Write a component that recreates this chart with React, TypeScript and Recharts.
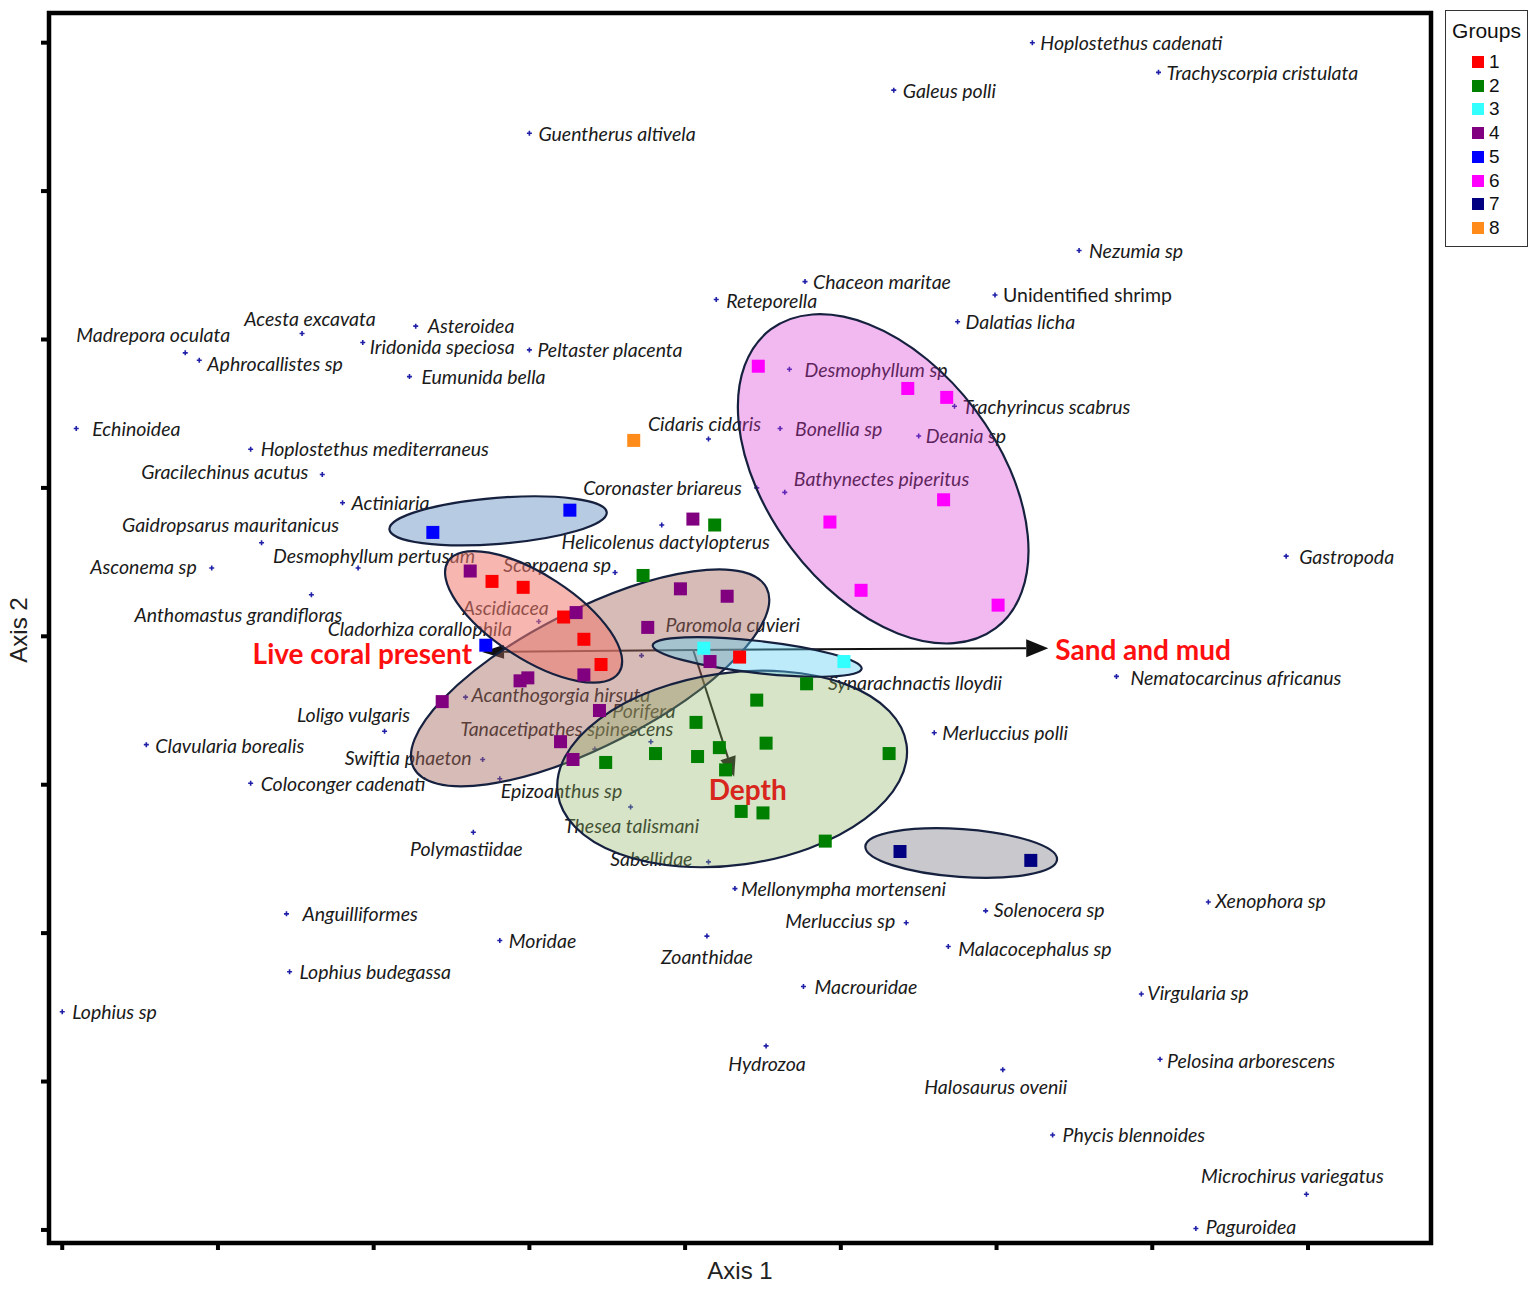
import React from "react";
import {
  ScatterChart,
  Scatter,
  XAxis,
  YAxis,
  ReferenceArea,
  ReferenceLine,
  Legend,
} from "recharts";

// axis ranges (ticks have no labels in the original)
const X_MIN = -0.085;
const X_MAX = 8.79;
const Y_MIN = -0.088;
const Y_MAX = 8.2;
const AXIS_TICKS = [0, 1, 2, 3, 4, 5, 6, 7, 8];

// species scores
const SPECIES_NAMES = [
  "Hoplostethus cadenati", "Trachyscorpia cristulata", "Galeus polli", "Guentherus altivela",
  "Nezumia sp", "Chaceon maritae", "Unidentified shrimp", "Reteporella", "Dalatias licha",
  "Madrepora oculata", "Aphrocallistes sp", "Acesta excavata", "Asteroidea", "Iridonida speciosa",
  "Eumunida bella", "Peltaster placenta", "Desmophyllum sp", "Trachyrincus scabrus", "Echinoidea",
  "Bonellia sp", "Deania sp", "Bathynectes piperitus", "Hoplostethus mediterraneus", "Cidaris cidaris",
  "Gracilechinus acutus", "Coronaster briareus", "Actiniaria", "Helicolenus dactylopterus",
  "Gaidropsarus mauritanicus", "Desmophyllum pertusum", "Asconema sp", "Gastropoda", "Scorpaena sp",
  "Anthomastus grandifloras", "Ascidiacea", "Cladorhiza corallophila", "Paromola cuvieri",
  "Synarachnactis lloydii", "Nematocarcinus africanus", "Merluccius polli", "Loligo vulgaris",
  "Clavularia borealis", "Swiftia phaeton", "Coloconger cadenati", "Epizoanthus sp",
  "Acanthogorgia hirsuta", "Tanacetipathes spinescens", "Porifera", "Thesea talismani",
  "Polymastiidae", "Sabellidae", "Mellonympha mortenseni", "Anguilliformes", "Solenocera sp",
  "Xenophora sp", "Merluccius sp", "Moridae", "Zoanthidae", "Malacocephalus sp", "Lophius budegassa",
  "Macrouridae", "Virgularia sp", "Lophius sp", "Hydrozoa", "Pelosina arborescens",
  "Halosaurus ovenii", "Phycis blennoides", "Microchirus variegatus", "Paguroidea",
];
const SPECIES_X = [
  6.23, 7.04, 5.34, 3.0, 6.53, 4.77, 5.99, 4.2, 5.75,
  0.79, 0.88, 1.54, 2.27, 1.93, 2.23, 3.0, 4.67, 5.73, 0.09,
  4.61, 5.5, 4.64, 1.21, 4.15, 1.67, 4.46, 1.8, 3.85,
  1.28, 1.9, 0.96, 7.86, 3.55, 1.6, 3.06, 2.72, 3.72,
  5.02, 6.77, 5.6, 2.07, 0.54, 2.7, 1.21, 2.81,
  2.59, 3.42, 3.78, 3.65, 2.64, 4.15, 4.32, 1.44, 5.93,
  7.36, 5.42, 2.81, 4.14, 5.69, 1.46, 4.76, 6.93, 0.0, 4.52, 7.05,
  6.04, 6.36, 7.99, 7.28,
];
const SPECIES_Y = [
  8.0, 7.8, 7.68, 7.39, 6.6, 6.39, 6.3, 6.27, 6.12,
  5.91, 5.86, 6.04, 6.09, 5.98, 5.75, 5.93, 5.8, 5.55, 5.4,
  5.4, 5.35, 4.97, 5.26, 5.33, 5.09, 5.0, 4.9, 4.75,
  4.63, 4.46, 4.46, 4.54, 4.43, 4.28, 4.1, 3.94, 3.87,
  3.83, 3.73, 3.35, 3.36, 3.27, 3.17, 3.01, 3.04,
  3.59, 3.24, 3.29, 2.85, 2.68, 2.48, 2.3, 2.13, 2.15,
  2.21, 2.07, 1.95, 1.98, 1.91, 1.74, 1.64, 1.59, 1.47, 1.24, 1.15,
  1.08, 0.64, 0.24, 0.01,
];

// sample groups
const GROUP_LABELS = ["1", "2", "3", "4", "5", "6", "7", "8"];
const GROUP_1 = [[2.76, 4.37], [2.96, 4.33], [3.22, 4.13], [3.35, 3.98], [3.46, 3.81], [4.35, 3.86]];
const GROUP_2 = [
  [4.19, 4.75], [3.73, 4.41], [4.78, 3.68], [4.46, 3.57], [4.07, 3.42], [4.52, 3.28], [4.22, 3.25],
  [4.08, 3.19], [3.81, 3.21], [3.49, 3.15], [4.26, 3.1], [5.31, 3.21], [4.36, 2.82], [4.5, 2.81], [4.9, 2.62],
];
const GROUP_3 = [[4.12, 3.92], [5.02, 3.83]];
const GROUP_4 = [
  [2.62, 4.44], [3.3, 4.16], [3.35, 3.74], [2.94, 3.7], [2.99, 3.72], [2.44, 3.56], [3.45, 3.5],
  [3.2, 3.29], [3.28, 3.17], [3.76, 4.06], [3.97, 4.32], [4.27, 4.27], [4.05, 4.79], [4.16, 3.83],
];
const GROUP_5 = [[2.38, 4.7], [3.26, 4.85], [2.72, 3.94]];
const GROUP_6 = [[4.47, 5.82], [5.43, 5.67], [5.68, 5.61], [4.93, 4.77], [5.13, 4.31], [5.66, 4.92], [6.01, 4.21]];
const GROUP_7 = [[5.38, 2.55], [6.22, 2.49]];
const GROUP_8 = [[3.67, 5.32]];
const GROUP_POINTS = [GROUP_1, GROUP_2, GROUP_3, GROUP_4, GROUP_5, GROUP_6, GROUP_7, GROUP_8];

// group ellipses: centre, semi axes (in axis-1 units), rotation in degrees
const ELLIPSE_GROUP = ["4", "1", "5", "2", "3", "6", "7"];
const ELLIPSE_X = [3.39, 3.027, 2.799, 4.302, 4.463, 5.272, 5.773];
const ELLIPSE_Y = [3.72, 4.131, 4.778, 3.106, 3.861, 5.061, 2.54];
const ELLIPSE_A = [1.272, 0.655, 0.7, 1.131, 0.675, 1.201, 0.617];
const ELLIPSE_B = [0.437, 0.27, 0.148, 0.617, 0.103, 0.739, 0.154];
const ELLIPSE_ANGLE = [-27, 33, -4.5, -8, 6.4, 53, 4];

// environmental vectors
const VECTOR_ORIGIN = [4.052, 3.908];
const VECTOR_TIPS = [[2.696, 3.895], [6.332, 3.92], [4.315, 3.053]];
const VECTOR_LABELS = ["Live coral present", "Sand and mud", "Depth"];
const VECTOR_LABEL_X = [2.632, 6.377, 4.402];
const VECTOR_LABEL_Y = [3.888, 3.915, 2.972];

// ---- styles ----
const CHART_W = 1535;
const CHART_H = 1290;
const MARGIN = { top: 13, right: 104, bottom: 37, left: 39 };
const PLOT_W = CHART_W - MARGIN.left - 10 - MARGIN.right;
const PX_PER_X = PLOT_W / (X_MAX - X_MIN);

const GROUP_COLORS: Record<string, string> = {
  "1": "#ff0000", "2": "#008000", "3": "#33ffff", "4": "#800080",
  "5": "#0000ff", "6": "#ff00ff", "7": "#000080", "8": "#ff8c1a",
};
const ELLIPSE_FILL: Record<string, [string, number]> = {
  "1": ["#f07a70", 0.55],
  "2": ["#8db262", 0.35],
  "3": ["#5ccdf2", 0.4],
  "4": ["#a5695f", 0.45],
  "5": ["#6f98c8", 0.5],
  "6": ["#da37d4", 0.35],
  "7": ["#757582", 0.4],
};
const LABEL_FONT = "Lato, 'Open Sans', sans-serif";
const SANS = "'Liberation Sans', Arial, sans-serif";

// label offset from the marker [dx, dy, anchor]
const LABEL_POS: Record<string, [number, number, string]> = {
  "Hoplostethus cadenati": [8, 0, "start"], "Trachyscorpia cristulata": [8, 0, "start"],
  "Galeus polli": [9, 0, "start"], "Guentherus altivela": [9, 0, "start"],
  "Nezumia sp": [10, 0, "start"], "Chaceon maritae": [8, 0, "start"],
  "Unidentified shrimp": [8, 0, "start"], "Reteporella": [10, 1, "start"],
  "Dalatias licha": [8, 0, "start"], "Madrepora oculata": [-32, -18, "middle"],
  "Aphrocallistes sp": [8, 3, "start"], "Acesta excavata": [8, -15, "middle"],
  "Asteroidea": [12, -1, "start"], "Iridonida speciosa": [7, 4, "start"],
  "Eumunida bella": [12, 0, "start"], "Peltaster placenta": [8, 0, "start"],
  "Desmophyllum sp": [15, 0, "start"], "Trachyrincus scabrus": [8, 0, "start"],
  "Echinoidea": [16, 0, "start"], "Bonellia sp": [15, 0, "start"],
  "Deania sp": [7, 0, "start"], "Bathynectes piperitus": [9, -14, "start"],
  "Hoplostethus mediterraneus": [10, -1, "start"], "Cidaris cidaris": [-4, -15, "middle"],
  "Gracilechinus acutus": [-14, -3, "end"], "Coronaster briareus": [-15, 0, "end"],
  "Actiniaria": [9, 0, "start"], "Helicolenus dactylopterus": [4, 16, "middle"],
  "Gaidropsarus mauritanicus": [-31, -18, "middle"], "Desmophyllum pertusum": [16, -13, "middle"],
  "Asconema sp": [-15, -2, "end"], "Gastropoda": [13, 0, "start"],
  "Scorpaena sp": [-4, -8, "end"], "Anthomastus grandifloras": [-73, 20, "middle"],
  "Ascidiacea": [-33, -14, "middle"], "Cladorhiza corallophila": [-66, -17, "middle"],
  "Paromola cuvieri": [24, -31, "start"], "Synarachnactis lloydii": [-16, 21, "start"],
  "Nematocarcinus africanus": [14, 1, "start"], "Merluccius polli": [8, 0, "start"],
  "Loligo vulgaris": [-31, -17, "middle"], "Clavularia borealis": [9, 1, "start"],
  "Swiftia phaeton": [-11, -2, "end"], "Coloconger cadenati": [10, 0, "start"],
  "Epizoanthus sp": [1, 12, "start"], "Acanthogorgia hirsuta": [6, -3, "start"],
  "Tanacetipathes spinescens": [-28, -21, "middle"], "Porifera": [-7, -31, "middle"],
  "Thesea talismani": [1, 19, "middle"], "Polymastiidae": [-7, 16, "middle"],
  "Sabellidae": [-16, -3, "end"], "Mellonympha mortenseni": [6, 0, "start"],
  "Anguilliformes": [16, 0, "start"], "Solenocera sp": [8, -1, "start"],
  "Xenophora sp": [7, -1, "start"], "Merluccius sp": [-11, -2, "end"],
  "Moridae": [9, 0, "start"], "Zoanthidae": [0, 20, "middle"],
  "Malacocephalus sp": [10, 2, "start"], "Lophius budegassa": [10, 0, "start"],
  "Macrouridae": [11, 0, "start"], "Virgularia sp": [6, -1, "start"],
  "Lophius sp": [10, 0, "start"], "Hydrozoa": [1, 18, "middle"],
  "Pelosina arborescens": [7, 1, "start"], "Halosaurus ovenii": [-7, 17, "middle"],
  "Phycis blennoides": [10, 0, "start"], "Microchirus variegatus": [-14, -19, "middle"],
  "Paguroidea": [10, -2, "start"],
};
const VECTOR_ANCHOR = ["end", "start", "middle"];

const speciesData = SPECIES_NAMES.map((name, i) => ({ name, x: SPECIES_X[i], y: SPECIES_Y[i] }));
const ellipseData = ELLIPSE_GROUP.map((g, i) => ({
  group: g, x: ELLIPSE_X[i], y: ELLIPSE_Y[i], a: ELLIPSE_A[i], b: ELLIPSE_B[i], angle: ELLIPSE_ANGLE[i],
}));
const vectorLabelData = VECTOR_LABELS.map((text, i) => ({
  text, i, x: VECTOR_LABEL_X[i], y: VECTOR_LABEL_Y[i],
}));

function SpeciesMark(props: any) {
  const { cx, cy, payload } = props;
  const [dx, dy, anchor] = LABEL_POS[payload.name] ?? [8, 0, "start"];
  return (
    <g>
      <path
        d={`M${cx - 2.5},${cy}H${cx + 2.5}M${cx},${cy - 2.5}V${cy + 2.5}`}
        stroke="#1f1fa8"
        strokeWidth={1.6}
      />
      <text
        x={cx + dx}
        y={cy + dy}
        textAnchor={anchor}
        dominantBaseline="central"
        fontFamily={LABEL_FONT}
        fontStyle={payload.name === "Unidentified shrimp" ? "normal" : "italic"}
        fontSize={19.5}
        fill="#1a1a1a"
      >
        {payload.name}
      </text>
    </g>
  );
}

function EllipseMark(props: any) {
  const { cx, cy, payload } = props;
  const [fill, op] = ELLIPSE_FILL[payload.group];
  return (
    <ellipse
      cx={cx}
      cy={cy}
      rx={payload.a * PX_PER_X}
      ry={payload.b * PX_PER_X}
      transform={`rotate(${payload.angle} ${cx} ${cy})`}
      fill={fill}
      fillOpacity={op}
      stroke="#16213f"
      strokeWidth={2.2}
    />
  );
}

function SquareMark(props: any) {
  const { cx, cy, fill } = props;
  return <rect x={cx - 6.5} y={cy - 6.5} width={13} height={13} fill={fill} />;
}

function VectorLabel(props: any) {
  const { cx, cy, payload } = props;
  return (
    <text
      x={cx}
      y={cy}
      textAnchor={VECTOR_ANCHOR[payload.i]}
      dominantBaseline="central"
      fontFamily={LABEL_FONT}
      fontWeight="bold"
      fontSize={28}
      fill={payload.i === 2 ? "#d8261c" : "#ff1010"}
    >
      {payload.text}
    </text>
  );
}

const arrowShape = (len: number, half: number) => (props: any) => {
  const { x1, y1, x2, y2 } = props;
  const ang = Math.atan2(y2 - y1, x2 - x1);
  const c = Math.cos(ang);
  const s = Math.sin(ang);
  const bx = x2 - len * c;
  const by = y2 - len * s;
  return (
    <g>
      <line x1={x1} y1={y1} x2={bx} y2={by} stroke="#111" strokeWidth={2} />
      <polygon
        points={`${x2},${y2} ${bx - s * half},${by + c * half} ${bx + s * half},${by - c * half}`}
        fill="#111"
      />
    </g>
  );
};
const ARROW_SIZES: [number, number][] = [[22, 7], [22, 9], [20, 8]];

function GroupsLegend(props: any) {
  const items = (props.payload || []).filter((p: any) => GROUP_COLORS[p.value]);
  return (
    <div
      style={{
        position: "relative",
        width: 83,
        height: 237,
        border: "1.5px solid #333",
        boxSizing: "border-box",
        background: "#fff",
        fontFamily: SANS,
        color: "#111",
      }}
    >
      <div style={{ position: "absolute", left: 0, right: 0, top: 8, textAlign: "center", fontSize: 21, lineHeight: "24px" }}>
        Groups
      </div>
      {items.map((p: any, i: number) => (
        <div key={p.value} style={{ position: "absolute", left: 26, top: 39 + i * 23.7, height: 24, display: "flex", alignItems: "center" }}>
          <span style={{ width: 12, height: 12, background: GROUP_COLORS[p.value], display: "inline-block" }} />
          <span style={{ fontSize: 19, marginLeft: 5, lineHeight: "24px" }}>{p.value}</span>
        </div>
      ))}
    </div>
  );
}

export default function App() {
  return (
    <div style={{ position: "absolute", left: 0, top: 0, background: "#fff" }}>
      <ScatterChart width={CHART_W} height={CHART_H} margin={MARGIN}>
        <XAxis
          type="number"
          dataKey="x"
          domain={[X_MIN, X_MAX]}
          allowDataOverflow
          ticks={AXIS_TICKS}
          interval={0}
          height={10}
          tickSize={7}
          tickFormatter={() => ""}
          axisLine={false}
          tickLine={{ stroke: "#000", strokeWidth: 4 }}
          label={{ value: "Axis 1", position: "bottom", offset: 9, fontFamily: SANS, fontSize: 24, fill: "#222" }}
        />
        <YAxis
          type="number"
          dataKey="y"
          domain={[Y_MIN, Y_MAX]}
          allowDataOverflow
          ticks={AXIS_TICKS}
          interval={0}
          width={10}
          tickSize={8}
          tickFormatter={() => ""}
          axisLine={false}
          tickLine={{ stroke: "#000", strokeWidth: 4 }}
          label={{
            content: (p: any) => {
              const vb = p.viewBox || { x: 0, y: 0, height: 0 };
              const cx = 18;
              const cy = vb.y + vb.height / 2 + 2;
              return (
                <text x={cx} y={cy} transform={`rotate(-90 ${cx} ${cy})`} textAnchor="middle" dominantBaseline="central" fontFamily={SANS} fontSize={24} fill="#222">
                  Axis 2
                </text>
              );
            },
          }}
        />
        <Scatter data={speciesData} shape={SpeciesMark} legendType="none" isAnimationActive={false} />
        <Scatter data={ellipseData} shape={EllipseMark} legendType="none" isAnimationActive={false} />
        {GROUP_POINTS.map((pts, gi) => (
          <Scatter
            key={GROUP_LABELS[gi]}
            name={GROUP_LABELS[gi]}
            data={pts.map(([x, y]) => ({ x, y }))}
            fill={GROUP_COLORS[GROUP_LABELS[gi]]}
            shape={SquareMark}
            legendType="square"
            isAnimationActive={false}
          />
        ))}
        {VECTOR_TIPS.map((tip, i) => (
          <ReferenceLine
            key={i}
            segment={[{ x: VECTOR_ORIGIN[0], y: VECTOR_ORIGIN[1] }, { x: tip[0], y: tip[1] }]}
            shape={arrowShape(ARROW_SIZES[i][0], ARROW_SIZES[i][1])}
          />
        ))}
        <Scatter data={vectorLabelData} shape={VectorLabel} legendType="none" isAnimationActive={false} />
        <ReferenceArea
          x1={X_MIN}
          x2={X_MAX}
          y1={Y_MIN}
          y2={Y_MAX}
          fill="none"
          fillOpacity={0}
          stroke="#000"
          strokeWidth={4.5}
        />
        <Legend
          layout="vertical"
          verticalAlign="middle"
          align="center"
          content={GroupsLegend}
          wrapperStyle={{ position: "absolute", left: 1445, top: 10, width: 83, height: 237 }}
        />
      </ScatterChart>
    </div>
  );
}
